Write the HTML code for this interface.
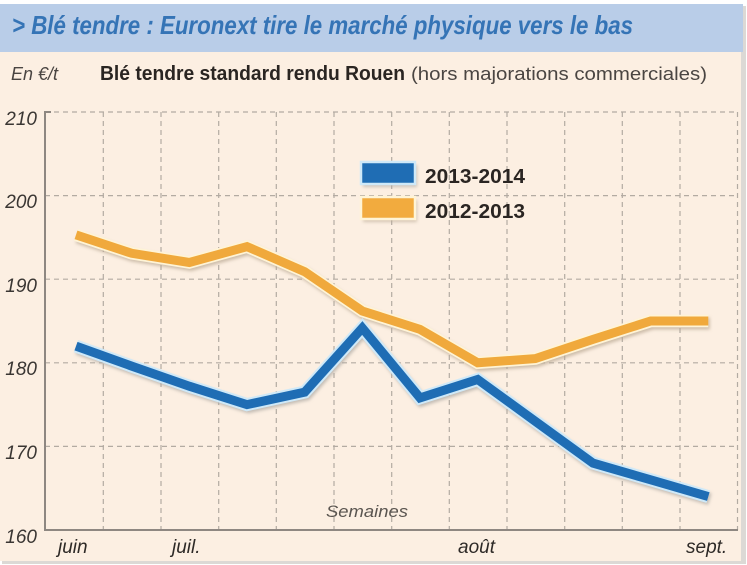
<!DOCTYPE html>
<html><head><meta charset="utf-8"><style>
html,body{margin:0;padding:0;background:#fff;}
svg{display:block;}
</style></head><body>
<svg width="747" height="565" viewBox="0 0 747 565" xmlns="http://www.w3.org/2000/svg" font-family="Liberation Sans, sans-serif">
<defs>
<filter id="sh" x="-5%" y="-5%" width="110%" height="120%"><feGaussianBlur stdDeviation="1.5"/></filter>
</defs>
<rect x="0" y="0" width="747" height="565" fill="#ffffff"/>
<!-- panel shadow -->
<rect x="2" y="6" width="744" height="558" fill="#dcd9d5"/>
<rect x="0" y="52" width="741" height="509" fill="#fcefe2"/>
<rect x="0" y="4" width="743" height="48" fill="#b9cde8"/>
<text x="12" y="34" font-size="26" font-weight="bold" font-style="italic" fill="#3574b6" textLength="621" lengthAdjust="spacingAndGlyphs">&gt; Blé tendre : Euronext tire le marché physique vers le bas</text>
<text x="11" y="80" font-size="18" font-style="italic" fill="#4a4542" textLength="47" lengthAdjust="spacingAndGlyphs">En €/t</text>
<text x="100" y="80" font-size="20" font-weight="bold" fill="#2a2522" textLength="305" lengthAdjust="spacingAndGlyphs">Blé tendre standard rendu Rouen</text>
<text x="411" y="80" font-size="18" fill="#4a4542" textLength="296" lengthAdjust="spacingAndGlyphs">(hors majorations commerciales)</text>

<!-- grid -->
<g stroke="#b3aba2" stroke-width="1.2" stroke-dasharray="5 4" fill="none">
<line x1="45" y1="112" x2="737" y2="112"/>
<line x1="45" y1="195.6" x2="737" y2="195.6"/>
<line x1="45" y1="279.2" x2="737" y2="279.2"/>
<line x1="45" y1="362.8" x2="737" y2="362.8"/>
<line x1="45" y1="446.4" x2="737" y2="446.4"/>
<line x1="103.3" y1="112" x2="103.3" y2="530"/>
<line x1="161" y1="112" x2="161" y2="530"/>
<line x1="218.7" y1="112" x2="218.7" y2="530"/>
<line x1="276.3" y1="112" x2="276.3" y2="530"/>
<line x1="334" y1="112" x2="334" y2="530"/>
<line x1="391.7" y1="112" x2="391.7" y2="530"/>
<line x1="449.3" y1="112" x2="449.3" y2="530"/>
<line x1="507" y1="112" x2="507" y2="530"/>
<line x1="564.7" y1="112" x2="564.7" y2="530"/>
<line x1="622.3" y1="112" x2="622.3" y2="530"/>
<line x1="680" y1="112" x2="680" y2="530"/>
<line x1="737.5" y1="112" x2="737.5" y2="530"/>
</g>
<!-- axes -->
<g stroke="#8e8781" stroke-width="2" fill="none">
<polyline points="51,112 45,112 45,530 738,530"/>
</g>

<!-- y labels -->
<g font-size="19" font-style="italic" fill="#3a3633" text-anchor="end">
<text x="37" y="125" font-style="italic">210</text>
<text x="37" y="208" font-style="italic">200</text>
<text x="37" y="292" font-style="italic">190</text>
<text x="37" y="375" font-style="italic">180</text>
<text x="37" y="459" font-style="italic">170</text>
<text x="37" y="543" font-style="italic">160</text>
</g>
<!-- x labels -->
<g font-size="19" font-style="italic" fill="#2e2a27">
<text x="58" y="553">juin</text>
<text x="172" y="553">juil.</text>
<text x="458" y="553">août</text>
<text x="686" y="553">sept.</text>
</g>
<text x="326" y="517" font-size="17" font-style="italic" fill="#5a5550" textLength="82" lengthAdjust="spacingAndGlyphs">Semaines</text>

<!-- orange series -->
<g fill="none" stroke-linejoin="miter" stroke-linecap="butt">
<polyline filter="url(#sh)" transform="translate(1.5,2.5)" stroke="#b9a893" stroke-opacity="0.7" stroke-width="12" points="76,234.9 131.7,253.3 189.3,262.5 247,246.6 304.7,271.7 362.3,311 420,329.4 477.7,362.8 535.3,358.6 593,339.4 650.7,321 708.3,321"/>
<polyline stroke="#fff4d6" stroke-width="12.5" points="76,234.9 131.7,253.3 189.3,262.5 247,246.6 304.7,271.7 362.3,311 420,329.4 477.7,362.8 535.3,358.6 593,339.4 650.7,321 708.3,321"/>
<polyline stroke="#f0a93c" stroke-width="9" points="76,234.9 131.7,253.3 189.3,262.5 247,246.6 304.7,271.7 362.3,311 420,329.4 477.7,362.8 535.3,358.6 593,339.4 650.7,321 708.3,321"/>
</g>
<!-- blue series -->
<g fill="none" stroke-linejoin="miter" stroke-linecap="butt">
<polyline filter="url(#sh)" transform="translate(1.5,2.5)" stroke="#a9a5a0" stroke-opacity="0.7" stroke-width="12" points="76,346.1 131.7,366.1 189.3,386.2 247,404.6 304.7,392.1 362.3,328 420,397.9 477.7,379.5 535.3,421.3 593,463.1 650.7,479.8 708.3,496.6"/>
<polyline stroke="#cfe9f8" stroke-width="13" points="76,346.1 131.7,366.1 189.3,386.2 247,404.6 304.7,392.1 362.3,328 420,397.9 477.7,379.5 535.3,421.3 593,463.1 650.7,479.8 708.3,496.6"/>
<polyline stroke="#1f6db4" stroke-width="9" points="76,346.1 131.7,366.1 189.3,386.2 247,404.6 304.7,392.1 362.3,328 420,397.9 477.7,379.5 535.3,421.3 593,463.1 650.7,479.8 708.3,496.6"/>
</g>

<!-- legend -->
<rect x="363" y="165" width="54" height="22" fill="#a9a5a0" opacity="0.6" filter="url(#sh)"/>
<rect x="361" y="162" width="54" height="22" fill="#1f6db4" stroke="#cfe9f8" stroke-width="2.5"/>
<rect x="363" y="200" width="54" height="22" fill="#b9a893" opacity="0.6" filter="url(#sh)"/>
<rect x="361" y="197" width="54" height="22" fill="#f2ab3e" stroke="#fff4d6" stroke-width="2.5"/>
<text x="425" y="183" font-size="20" font-weight="bold" fill="#2a2522" textLength="100" lengthAdjust="spacingAndGlyphs">2013-2014</text>
<text x="425" y="218" font-size="20" font-weight="bold" fill="#2a2522" textLength="100" lengthAdjust="spacingAndGlyphs">2012-2013</text>
</svg>
</body></html>
